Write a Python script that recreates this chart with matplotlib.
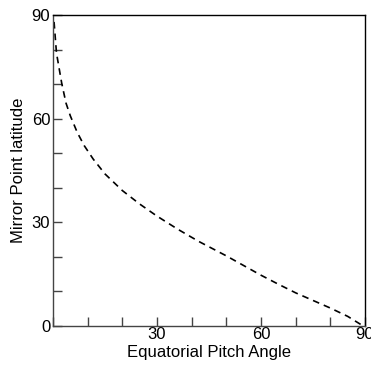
import numpy as np
import matplotlib
matplotlib.use("Agg")
import matplotlib.pyplot as plt

# values (degrees)
pitch_angle = [0.3, 1.0, 2.5, 3.75, 5.0, 7.0, 9.0, 11.6, 15.0, 20.0, 25.0, 30.0,
               36.0, 42.0, 50.0, 55.0, 60.0, 65.0, 70.0, 75.0, 80.0, 85.0, 89.5]
mirror_lat = [88.0, 79.0, 70.3, 64.5, 60.8, 56.0, 52.2, 48.3, 44.0, 39.2, 35.3, 31.8,
              28.0, 24.5, 20.3, 17.5, 14.7, 12.1, 9.6, 7.4, 5.2, 2.8, 0.0]

x_ticks = list(range(0, 91, 10))
y_ticks = list(range(0, 91, 10))
x_ticklabels = ["" if (t % 30 or t == 0) else str(t) for t in x_ticks]
y_ticklabels = ["" if t % 30 else str(t) for t in y_ticks]

plt.rcParams['font.family'] = ['Liberation Sans', 'DejaVu Sans']

fig = plt.figure(figsize=(3.71, 3.65), dpi=100)
ax = fig.add_axes([0.1429, 0.1068, 0.8409, 0.8521])

ax.plot(pitch_angle, mirror_lat, color="black", lw=1.2, dashes=(4, 3))

ax.set_xlim(0, 90)
ax.set_ylim(0, 90)
ax.set_xticks(x_ticks)
ax.set_xticklabels(x_ticklabels, fontsize=12)
ax.set_yticks(y_ticks)
ax.set_yticklabels(y_ticklabels, fontsize=12)
ax.tick_params(direction="in", length=6.5, width=1.0, color="#444444", pad=2)
ax.tick_params(axis="x", pad=1)
for s in ax.spines.values():
    s.set_linewidth(1.0)
ax.spines["left"].set_color("#444444")
ax.spines["bottom"].set_color("#444444")

ax.set_xlabel("Equatorial Pitch Angle", fontsize=12, labelpad=2)
ax.set_ylabel("Mirror Point latitude", fontsize=12, labelpad=4)

fig.savefig("out.png", dpi=100)
